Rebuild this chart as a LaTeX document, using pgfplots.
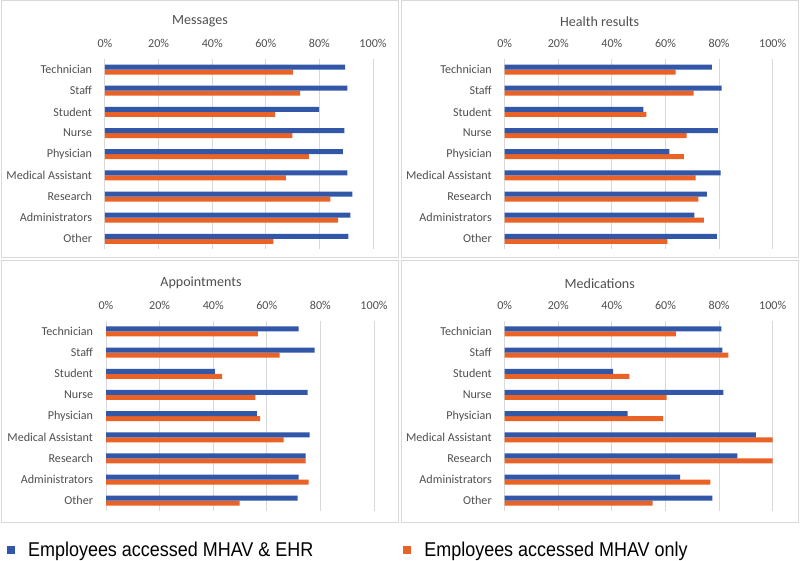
\documentclass[border=0pt]{standalone}
\usepackage{pgfplots}
\usepackage{pgfplotstable}
\pgfplotsset{compat=1.18}
\usepackage{fontspec}
\setmainfont{Carlito}
\newfontfamily\legendfont[FakeStretch=0.9]{Liberation Sans}

\definecolor{ehrblue}{RGB}{50,87,168}
\definecolor{onlyorange}{RGB}{234,98,38}
\definecolor{gridgray}{RGB}{217,217,217}
\definecolor{labelgray}{RGB}{80,80,80}

\def\u{0.25mm}

% columns: idx, accessed MHAV & EHR, accessed MHAV only (percent)
\pgfplotstableread{
idx both only
0 89.6 70.2
1 90.4 72.8
2 79.9 63.5
3 89.3 69.9
4 88.8 76.1
5 90.4 67.5
6 92.3 84.1
7 91.6 87.0
8 90.8 62.8
}\messages
\pgfplotstableread{
idx both only
0 77.3 63.8
1 80.9 70.5
2 51.7 52.9
3 79.5 67.9
4 61.4 66.9
5 80.6 71.2
6 75.4 72.3
7 70.8 74.3
8 79.2 60.7
}\health
\pgfplotstableread{
idx both only
0 71.9 56.7
1 77.8 64.8
2 40.6 43.3
3 75.2 55.7
4 56.3 57.5
5 76.0 66.3
6 74.5 74.5
7 71.9 75.6
8 71.5 49.9
}\appointments
\pgfplotstableread{
idx both only
0 80.8 63.9
1 81.2 83.5
2 40.5 46.5
3 81.6 60.4
4 45.9 59.1
5 93.7 100
6 86.8 100
7 65.5 76.7
8 77.5 55.2
}\medications

\pgfplotsset{
  panel/.style={
    scale only axis, anchor=south west,
    width=67mm, height=47.6mm,
    xbar=0pt, bar width=1.25mm,
    xmin=0, xmax=100, ymin=-0.5, ymax=8.5, y dir=reverse,
    axis line style={draw=none}, major tick length=0pt,
    xtick={0,20,40,60,80,100},
    xticklabels={0\%,20\%,40\%,60\%,80\%,100\%},
    xticklabel pos=upper,
    xmajorgrids, grid style={gridgray, line width=0.25mm},
    ytick={0,...,8},
    yticklabels={Technician,Staff,Student,Nurse,Physician,Medical Assistant,Research,Administrators,Other},
    tick label style={font=\fontsize{8.6}{10}\selectfont, text=labelgray},
    yticklabel style={xshift=-2mm},
    xticklabel style={anchor=center, yshift=3.8mm},
    clip=false,
  },
}
\tikzset{ptitle/.style={font=\fontsize{10}{12}\selectfont, text=labelgray, xshift=-9.75mm, yshift=9.4mm}}

\begin{document}
\begin{tikzpicture}
\path[use as bounding box, fill=white] (0,0) rectangle (800*\u,561*\u);
\draw[gridgray, line width=0.25mm] (1*\u,303*\u) rectangle (398*\u,560*\u);
\draw[gridgray, line width=0.25mm] (401*\u,303*\u) rectangle (798*\u,560*\u);
\draw[gridgray, line width=0.25mm] (1*\u,38*\u) rectangle (398*\u,300*\u);
\draw[gridgray, line width=0.25mm] (401*\u,38*\u) rectangle (798*\u,300*\u);

\begin{axis}[panel, at={(105*\u,311.6*\u)}]
\addplot[fill=onlyorange, draw=none] table[x=only, y=idx] {\messages};
\addplot[fill=ehrblue, draw=none] table[x=both, y=idx] {\messages};
\node[ptitle] at (axis description cs:0.5,1) {Messages};
\end{axis}

\begin{axis}[panel, at={(504.7*\u,311.6*\u)}]
\addplot[fill=onlyorange, draw=none] table[x=only, y=idx] {\health};
\addplot[fill=ehrblue, draw=none] table[x=both, y=idx] {\health};
\node[ptitle] at (axis description cs:0.5,1) {Health results};
\end{axis}

\begin{axis}[panel, at={(106*\u,49.7*\u)},
  legend columns=2, reverse legend,
  legend image code/.code={\fill[#1, draw=none] (0mm,-1mm) rectangle (2mm,1mm);},
  legend style={at={(-0.370,-0.203)}, anchor=west, draw=none, fill=none,
    inner sep=0pt, nodes={inner sep=0pt, anchor=west},
    font=\legendfont\fontsize{14.2}{17}\selectfont,
    /tikz/every odd column/.append style={column sep=3.25mm},
    /tikz/every even column/.append style={column sep=22.5mm}},
]
\addplot[fill=onlyorange, draw=none] table[x=only, y=idx] {\appointments};
\addlegendentry{Employees accessed MHAV only}
\addplot[fill=ehrblue, draw=none] table[x=both, y=idx] {\appointments};
\addlegendentry{Employees accessed MHAV \& EHR}
\node[ptitle] at (axis description cs:0.5,1) {Appointments};
\end{axis}

\begin{axis}[panel, at={(504.7*\u,49.7*\u)}]
\addplot[fill=onlyorange, draw=none] table[x=only, y=idx] {\medications};
\addplot[fill=ehrblue, draw=none] table[x=both, y=idx] {\medications};
\node[ptitle] at (axis description cs:0.5,1) {Medications};
\end{axis}
\end{tikzpicture}
\end{document}
